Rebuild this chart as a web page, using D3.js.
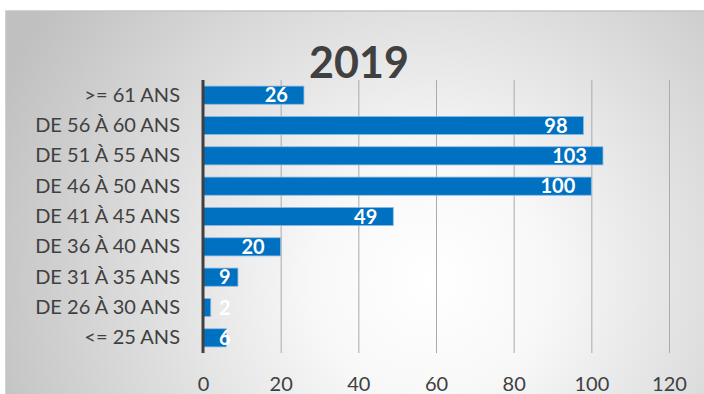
<!DOCTYPE html>
<html>
<head>
<meta charset="utf-8">
<script src="https://cdn.jsdelivr.net/npm/d3@7"></script>
<style>
  body { margin: 0; background: #fff; }
  svg { display: block; font-family: Lato, "Open Sans", sans-serif; }
</style>
</head>
<body>
<svg></svg>
<script>
// data
const categories = [">= 61 ANS", "DE 56 À 60 ANS", "DE 51 À 55 ANS", "DE 46 À 50 ANS",
  "DE 41 À 45 ANS", "DE 36 À 40 ANS", "DE 31 À 35 ANS", "DE 26 À 30 ANS", "<= 25 ANS"];
const values = [26, 98, 103, 100, 49, 20, 9, 2, 6];
const tickValues = [0, 20, 40, 60, 80, 100, 120];
const title = "2019";

const W = 704, H = 394;
const plot = { left: 203, right: 669, top: 80, bottom: 353 };

const svg = d3.select('svg')
  .attr('width', W)
  .attr('height', H);

// chart area background: soft radial gradient
const defs = svg.append('defs');
const grad = defs.append('radialGradient')
  .attr('id', 'bg')
  .attr('gradientUnits', 'userSpaceOnUse')
  .attr('cx', 430).attr('cy', 280).attr('r', 470);
grad.append('stop').attr('offset', '0').attr('stop-color', '#ffffff');
grad.append('stop').attr('offset', '0.25').attr('stop-color', '#f8f8f8');
grad.append('stop').attr('offset', '1').attr('stop-color', '#c0c0c0');

svg.append('rect')
  .attr('x', 6).attr('y', 11)
  .attr('width', W).attr('height', H)
  .attr('fill', 'url(#bg)')
  .attr('stroke', '#c4c4c4')
  .attr('stroke-width', 1.5);

// scales
const xScale = d3.scaleLinear()
  .domain([0, 120])
  .range([plot.left, plot.right]);

const yScale = d3.scaleBand()
  .domain(categories)
  .range([plot.top, plot.bottom])
  .paddingInner(0.4)
  .paddingOuter(0.2);

// vertical grid lines
svg.append('g')
  .attr('transform', `translate(0, ${plot.bottom})`)
  .call(d3.axisBottom(xScale)
    .tickValues(tickValues.slice(1))
    .tickSize(-(plot.bottom - plot.top))
    .tickFormat(''))
  .call(g => g.select('.domain').remove())
  .call(g => g.selectAll('line').attr('stroke', '#ababab').attr('stroke-width', 1));

// x tick labels
svg.append('g')
  .attr('transform', `translate(0, ${plot.bottom})`)
  .call(d3.axisBottom(xScale)
    .tickValues(tickValues)
    .tickSize(0)
    .tickPadding(24))
  .call(g => g.select('.domain').remove())
  .call(g => g.selectAll('text')
    .attr('fill', '#404040')
    .style('font-family', 'Lato, sans-serif')
    .style('font-size', '20px'));

// bars
svg.append('g')
  .selectAll('rect')
  .data(values)
  .join('rect')
  .attr('x', xScale(0))
  .attr('y', (d, i) => yScale(categories[i]))
  .attr('width', d => xScale(d) - xScale(0))
  .attr('height', yScale.bandwidth())
  .attr('fill', '#0070c0')
  .attr('stroke', '#8fbde3')
  .attr('stroke-width', 0.8);

// y axis with category labels
svg.append('g')
  .attr('transform', `translate(${plot.left}, 0)`)
  .call(d3.axisLeft(yScale).tickSize(0).tickPadding(23))
  .call(g => g.select('.domain')
    .attr('stroke', '#404040')
    .attr('stroke-width', 3)
    .attr('d', `M0,${plot.top}V${plot.bottom}`))
  .call(g => g.selectAll('text')
    .attr('fill', '#404040')
    .style('font-family', 'Lato, sans-serif')
    .style('font-size', '20px'));

// data labels, inside end
const labels = svg.append('g')
  .selectAll('text')
  .data(values)
  .join('text')
  .attr('y', (d, i) => yScale(categories[i]) + yScale.bandwidth() / 2)
  .attr('dy', '0.36em')
  .attr('fill', '#ffffff')
  .style('font-weight', 'bold')
  .style('font-size', '20px')
  .text(d => d);
labels.attr('x', function (d) {
  const w = this.getComputedTextLength();
  return Math.max(xScale(d) - 16 - w, xScale(0) + 16);
});

// title
svg.append('text')
  .attr('x', 359)
  .attr('y', 78)
  .attr('text-anchor', 'middle')
  .attr('fill', '#404040')
  .style('font-weight', 'bold')
  .style('font-size', '43px')
  .text(title);
</script>
</body>
</html>
